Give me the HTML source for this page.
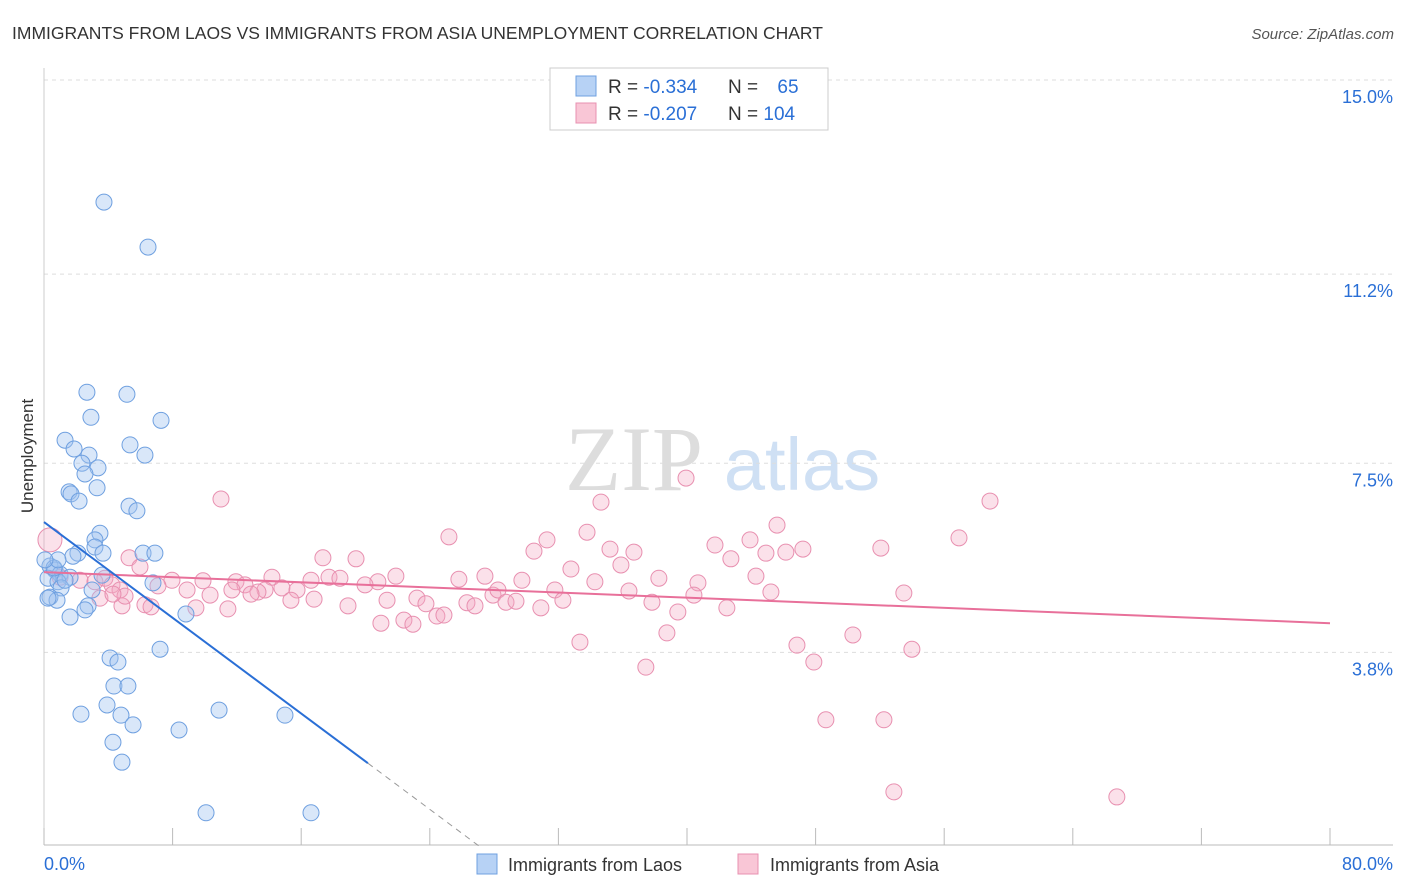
<!DOCTYPE html>
<html><head><meta charset="utf-8">
<style>
body{margin:0;background:#fff;font-family:"Liberation Sans",sans-serif;}
#wrap{position:relative;width:1406px;height:892px;overflow:hidden;}
</style></head>
<body>
<div id="wrap">
<svg id="svg" width="1406" height="892" xmlns="http://www.w3.org/2000/svg">
<text x="12" y="39" font-size="17.5" fill="#333">IMMIGRANTS FROM LAOS VS IMMIGRANTS FROM ASIA UNEMPLOYMENT CORRELATION CHART</text>
<text x="1394" y="39" font-size="15" fill="#555" font-style="italic" text-anchor="end">Source: ZipAtlas.com</text>
<text x="33" y="456" font-size="17" fill="#333" text-anchor="middle" transform="rotate(-90 33 456)">Unemployment</text>
<g>
<text x="634" y="490" font-size="92" fill="#ddd" font-family="Liberation Serif,serif" text-anchor="middle">ZIP</text>
<text x="802" y="490" font-size="74" fill="#cfe0f4" text-anchor="middle">atlas</text>
</g>
<g id="grid"></g>
<g id="axes"></g>
<g id="marks"></g>
<g>
<rect x="550" y="68" width="278" height="62" fill="#fff" stroke="#ccc"/>
<rect x="576" y="76" width="20" height="20" fill="#b7d2f5" stroke="#6fa0e0"/>
<rect x="576" y="103" width="20" height="20" fill="#f9c6d6" stroke="#e890b0"/>
<text x="608" y="93" font-size="19" fill="#333">R = <tspan fill="#2a6fd6">-0.334</tspan></text>
<text x="728" y="93" font-size="19" fill="#333">N = <tspan fill="#2a6fd6" dx="14">65</tspan></text>
<text x="608" y="120" font-size="19" fill="#333">R = <tspan fill="#2a6fd6">-0.207</tspan></text>
<text x="728" y="120" font-size="19" fill="#333">N = <tspan fill="#2a6fd6">104</tspan></text>
</g>
<g>
<rect x="477" y="854" width="20" height="20" fill="#b7d2f5" stroke="#6fa0e0"/>
<text x="508" y="871" font-size="18" fill="#333">Immigrants from Laos</text>
<rect x="738" y="854" width="20" height="20" fill="#f9c6d6" stroke="#e890b0"/>
<text x="770" y="871" font-size="18" fill="#333">Immigrants from Asia</text>
</g>
</svg>
</div>
<script>
const yTicks=[15.0,11.2,7.5,3.8];
const yTickLabels=["15.0%","11.2%","7.5%","3.8%"];
const xTickLabels=["0.0%","80.0%"];
const laosX=[3.73,6.47,2.67,5.16,2.92,7.28,1.31,5.35,1.87,6.28,2.80,2.36,3.36,2.55,1.56,1.68,3.30,2.18,5.29,5.78,3.48,3.17,3.17,2.11,3.67,6.16,6.90,1.80,0.37,0.68,1.00,3.61,1.62,0.25,0.87,6.78,1.06,2.99,0.37,0.81,2.74,2.55,1.62,8.83,7.22,4.11,4.60,4.35,5.22,3.92,10.89,2.30,4.79,14.99,5.54,8.40,4.29,4.85,10.08,16.61,0.25,0.62,1.31,0.87,0.06];
const laosY=[12.61,11.73,8.89,8.85,8.40,8.34,7.95,7.86,7.78,7.66,7.66,7.50,7.41,7.29,6.94,6.90,7.02,6.76,6.66,6.57,6.13,6.00,5.86,5.74,5.74,5.74,5.74,5.68,5.49,5.41,5.33,5.31,5.27,5.25,5.18,5.16,5.06,5.02,4.88,4.82,4.71,4.63,4.49,4.55,3.86,3.69,3.61,3.14,3.14,2.77,2.67,2.59,2.57,2.57,2.38,2.28,2.04,1.65,0.66,0.66,4.86,5.45,5.21,5.61,5.61];
const asiaX=[0.37,11.01,39.94,34.65,58.85,45.60,33.78,25.19,31.29,56.92,41.74,35.21,43.92,52.06,47.21,46.15,30.48,36.70,17.35,19.41,5.29,5.97,42.73,44.91,32.78,35.89,27.43,25.81,17.73,18.41,21.89,14.18,20.77,19.97,16.61,38.25,29.73,7.96,9.89,11.94,12.50,34.27,40.68,44.29,1.00,2.24,3.17,3.79,4.23,4.73,7.09,8.90,10.33,13.75,13.31,14.80,15.74,11.69,12.88,16.80,18.91,21.34,23.20,23.76,26.31,27.93,28.24,28.74,29.36,31.78,32.28,36.39,37.82,40.43,45.22,53.49,6.28,6.66,4.85,9.45,11.44,15.36,5.04,3.48,4.29,30.91,39.43,42.48,26.81,24.44,22.39,22.95,20.96,38.75,50.32,33.34,46.84,53.99,47.89,37.44,48.64,52.25,52.87,66.74,24.88];
const asiaY=[6.00,6.80,7.21,6.74,6.76,6.29,6.15,6.06,6.00,6.04,5.90,5.82,6.00,5.84,5.82,5.76,5.78,5.76,5.65,5.63,5.65,5.47,5.63,5.74,5.43,5.51,5.29,5.23,5.27,5.25,5.29,5.27,5.18,5.12,5.21,5.25,5.21,5.21,5.20,5.18,5.12,5.18,5.16,5.29,5.27,5.21,5.18,5.25,5.12,5.02,5.10,5.02,4.92,5.02,4.98,5.06,5.02,5.02,4.94,4.84,4.71,4.82,4.86,4.75,4.77,4.92,5.02,4.78,4.80,5.02,4.82,5.00,4.78,4.92,4.98,4.96,4.73,4.69,4.71,4.67,4.65,4.82,4.90,4.86,4.94,4.67,4.59,4.67,4.71,4.51,4.43,4.35,4.37,4.18,4.14,4.00,3.94,3.86,3.61,3.51,2.48,2.48,1.07,0.97,4.53];
const laosTrend=[[0,6.35],[20.15,1.63],[27.1,0]];
const asiaTrend=[[0,5.37],[80,4.37]];

const NS="http://www.w3.org/2000/svg";
const X0=44,X1=1330,Y15=80,PX_PER=51.1;
function xs(v){return X0+(v/80)*(X1-X0);}
function ys(v){return Y15+(15-v)*PX_PER;}
function mk(tag,attrs,parent){const e=document.createElementNS(NS,tag);for(const k in attrs)e.setAttribute(k,attrs[k]);parent.appendChild(e);return e;}
const grid=document.getElementById('grid'),axes=document.getElementById('axes'),marks=document.getElementById('marks');
yTicks.forEach((t,i)=>{
  const l=mk('line',{x1:X0,x2:1393,y1:ys(t),y2:ys(t),stroke:'#ddd','stroke-dasharray':'4,4'},grid);
  
  
  const tx=mk('text',{x:1393,y:ys(t)+23,'font-size':18,fill:'#2a6fd6','text-anchor':'end'},axes);
  tx.textContent=yTickLabels[i];
  
  
});
const ax=mk('line',{x1:X0,x2:1393,y1:845,y2:845,stroke:'#bbb'},axes);


const ay=mk('line',{x1:X0,x2:X0,y1:68,y2:845,stroke:'#ccc'},axes);


for(let i=0;i<=10;i++){
  const t=mk('line',{x1:xs(i*8),x2:xs(i*8),y1:828,y2:845,stroke:'#bbb'},axes);
  
  
}
[[0,'start',44],[80,'end',1393]].forEach((d,i)=>{
  const tx=mk('text',{x:d[2],y:870,'font-size':18,fill:'#2a6fd6','text-anchor':d[1]},axes);
  tx.textContent=xTickLabels[i];
  
  
});
asiaX.forEach((x,i)=>{
  const c=mk('circle',{cx:xs(x),cy:ys(asiaY[i]),r:i==0?12:8,fill:'rgba(244,170,195,0.35)',stroke:'#e890b0','stroke-width':1},marks);
  
  
});
laosX.forEach((x,i)=>{
  const c=mk('circle',{cx:xs(x),cy:ys(laosY[i]),r:8,fill:'rgba(160,196,240,0.4)',stroke:'#6fa0e0','stroke-width':1},marks);
  
  
});
const at=mk('line',{x1:xs(asiaTrend[0][0]),y1:ys(asiaTrend[0][1]),x2:xs(asiaTrend[1][0]),y2:ys(asiaTrend[1][1]),stroke:'#e8709a','stroke-width':2},marks);


const lt=mk('line',{x1:xs(laosTrend[0][0]),y1:ys(laosTrend[0][1]),x2:xs(laosTrend[1][0]),y2:ys(laosTrend[1][1]),stroke:'#2a6fd6','stroke-width':2},marks);


const ld=mk('line',{x1:xs(laosTrend[1][0]),y1:ys(laosTrend[1][1]),x2:xs(laosTrend[2][0]),y2:ys(laosTrend[2][1]),stroke:'#999','stroke-width':1,'stroke-dasharray':'6,5'},marks);


</script>
</body></html>
